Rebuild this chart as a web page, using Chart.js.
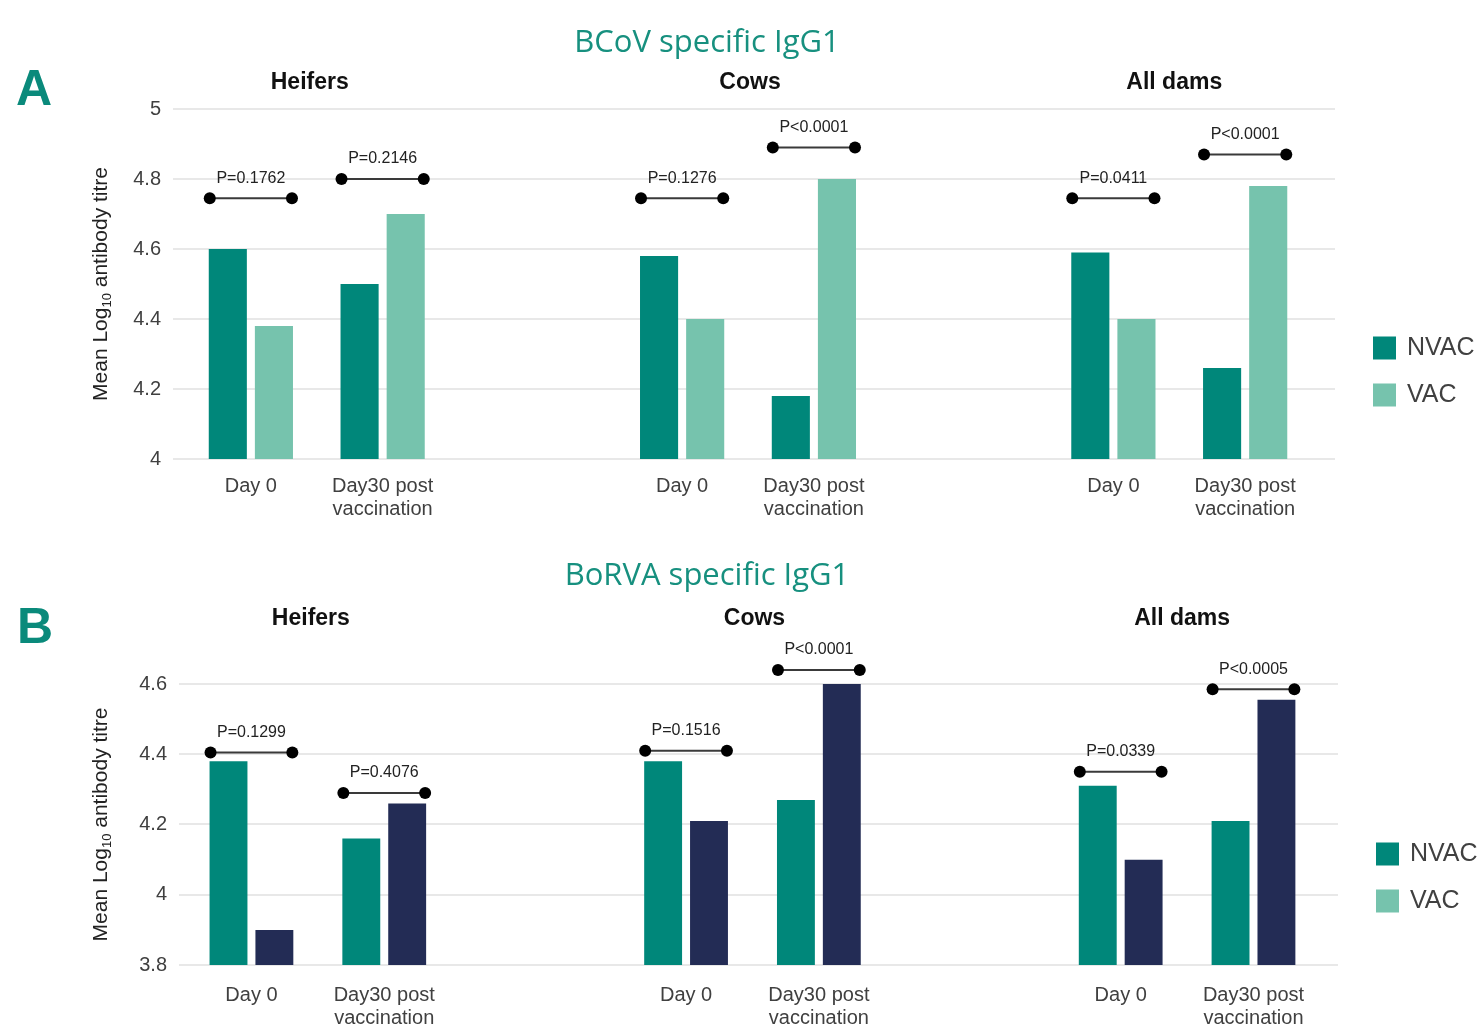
<!DOCTYPE html>
<html>
<head>
<meta charset="utf-8">
<script src="https://cdn.jsdelivr.net/npm/chart.js"></script>
<style>
  body { margin: 0; background: #fff; }
  .panel { position: absolute; left: 0; width: 1482px; }
  #boxA { top: 0; height: 530px; }
  #boxB { top: 530px; height: 495px; }
</style>
</head>
<body>
<div class="panel" id="boxA"><canvas id="chartA"></canvas></div>
<div class="panel" id="boxB"><canvas id="chartB"></canvas></div>
<script>
// ---- data ----
const groups = ["Heifers", "Cows", "All dams"];
const timepoints = ["Day 0", ["Day30 post", "vaccination"]];
const seriesNames = ["NVAC", "VAC"];

// A: BCoV specific IgG1  (order: Heifers d0, d30, Cows d0, d30, All dams d0, d30)
const bcovNVAC = [4.60, 4.50, 4.58, 4.18, 4.59, 4.26];
const bcovVAC = [4.38, 4.70, 4.40, 4.80, 4.40, 4.78];
const bcovBracket = [4.745, 4.80, 4.745, 4.89, 4.745, 4.87];
const bcovP = ["P=0.1762", "P=0.2146", "P=0.1276", "P<0.0001", "P=0.0411", "P<0.0001"];
const bcovTicks = [4, 4.2, 4.4, 4.6, 4.8, 5];
const bcovTickLabels = ["4", "4.2", "4.4", "4.6", "4.8", "5"];

// B: BoRVA specific IgG1
const borvaNVAC = [4.38, 4.16, 4.38, 4.27, 4.31, 4.21];
const borvaVAC = [3.90, 4.26, 4.21, 4.60, 4.10, 4.555];
const borvaBracket = [4.405, 4.29, 4.41, 4.64, 4.35, 4.585];
const borvaP = ["P=0.1299", "P=0.4076", "P=0.1516", "P<0.0001", "P=0.0339", "P<0.0005"];
const borvaTicks = [3.8, 4, 4.2, 4.4, 4.6];
const borvaTickLabels = ["3.8", "4", "4.2", "4.4", "4.6"];

// ---- colours ----
const teal = "#00877a";
const lightTeal = "#76c3ad";
const navy = "#232c55";

Chart.defaults.font.family = "Arial, 'Liberation Sans', sans-serif";

// category slots (spacer categories give the gaps between groups)
const SLOTS = 97, LEAD = 6, PAIR_STEP = 11, GROUP_STEP = 36;
const slotOf = [];
for (let g = 0; g < groups.length; g++) {
  for (let t = 0; t < timepoints.length; t++) slotOf.push(LEAD + g * GROUP_STEP + t * PAIR_STEP);
}
const labels = new Array(SLOTS).fill("");
slotOf.forEach((s, k) => { labels[s] = timepoints[k % 2]; });

function spread(vals) {
  const arr = new Array(SLOTS).fill(null);
  slotOf.forEach((s, k) => { arr[s] = vals[k]; });
  return arr;
}

const titleShift = [-7, 2, -5];

const extrasPlugin = {
  id: "extras",
  afterDraw(chart) {
    const o = chart.options.plugins.extras;
    const ctx = chart.ctx;
    const area = chart.chartArea;
    const y = chart.scales.y;
    const m0 = chart.getDatasetMeta(0).data;
    const m1 = chart.getDatasetMeta(1).data;
    ctx.save();

    // panel letter
    ctx.fillStyle = "#0a8a7b";
    ctx.font = "bold 50px Arial, 'Liberation Sans', sans-serif";
    ctx.textAlign = "left";
    ctx.textBaseline = "alphabetic";
    ctx.fillText(o.letter, o.letterX, o.letterY);

    // panel title
    ctx.fillStyle = "#17907f";
    ctx.font = o.titleSize + "px 'Open Sans', 'Noto Sans', sans-serif";
    ctx.textAlign = "center";
    ctx.fillText(o.title, 707, o.titleY);

    // group headings
    ctx.fillStyle = "#111";
    ctx.font = "bold 23px Arial, 'Liberation Sans', sans-serif";
    ctx.textBaseline = "middle";
    groups.forEach((g, i) => {
      const a = m0[slotOf[i * 2]], b = m1[slotOf[i * 2 + 1]];
      const cx = (a.x - a.width / 2 + b.x + b.width / 2) / 2 + titleShift[i];
      ctx.fillText(g, cx, o.groupY);
    });

    // p-value brackets
    slotOf.forEach((s, k) => {
      const a = m0[s], b = m1[s];
      const x1 = a.x - a.width / 2 + 1, x2 = b.x + b.width / 2 - 1;
      const py = y.getPixelForValue(o.bracket[k]);
      ctx.strokeStyle = "#3a3a3a";
      ctx.lineWidth = 2;
      ctx.beginPath();
      ctx.moveTo(x1, py);
      ctx.lineTo(x2, py);
      ctx.stroke();
      ctx.fillStyle = "#000";
      [x1, x2].forEach(x => {
        ctx.beginPath();
        ctx.arc(x, py, 6, 0, Math.PI * 2);
        ctx.fill();
      });
      ctx.fillStyle = "#222";
      ctx.font = "16px Arial, 'Liberation Sans', sans-serif";
      ctx.textAlign = "center";
      ctx.fillText(o.pvals[k], (x1 + x2) / 2, py - 20);
    });

    // y axis title with subscript
    ctx.save();
    ctx.translate(101, (area.top + area.bottom) / 2);
    ctx.rotate(-Math.PI / 2);
    ctx.fillStyle = "#222";
    const big = "21px Arial, 'Liberation Sans', sans-serif";
    const small = "13px Arial, 'Liberation Sans', sans-serif";
    const parts = [["Mean Log", big, 0], ["10", small, 6], [" antibody titre", big, 0]];
    let total = 0;
    parts.forEach(p => { ctx.font = p[1]; p.push(ctx.measureText(p[0]).width); total += p[3]; });
    let x = -total / 2;
    ctx.textAlign = "left";
    ctx.textBaseline = "middle";
    parts.forEach(p => { ctx.font = p[1]; ctx.fillText(p[0], x, p[2]); x += p[3]; });
    ctx.restore();

    // legend (VAC swatch is light teal in both panels)
    const lx = area.right + 38;
    const legendColors = [teal, lightTeal];
    ctx.font = "25px Arial, 'Liberation Sans', sans-serif";
    ctx.textAlign = "left";
    ctx.textBaseline = "middle";
    seriesNames.forEach((n, i) => {
      const cy = area.bottom - 111 + i * 47;
      ctx.fillStyle = legendColors[i];
      ctx.fillRect(lx, cy - 11.5, 23, 23);
      ctx.fillStyle = "#404040";
      ctx.fillText(n, lx + 34, cy);
    });
    ctx.restore();
  }
};

function makeChart(id, cfg) {
  return new Chart(document.getElementById(id), {
    type: "bar",
    data: {
      labels: labels,
      datasets: [
        { label: seriesNames[0], data: spread(cfg.nvac), backgroundColor: teal },
        { label: seriesNames[1], data: spread(cfg.vac), backgroundColor: cfg.vacColor }
      ]
    },
    options: {
      responsive: true,
      maintainAspectRatio: false,
      animation: false,
      datasets: { bar: { categoryPercentage: cfg.catPct, barPercentage: 0.826, borderWidth: 0 } },
      layout: { padding: { left: 0, right: cfg.padRight, top: cfg.padTop, bottom: 0 } },
      plugins: {
        legend: { display: false },
        tooltip: { enabled: false },
        extras: cfg.extras
      },
      scales: {
        x: {
          offset: cfg.offset,
          grid: { display: false },
          border: { display: false },
          ticks: {
            autoSkip: false, maxRotation: 0, minRotation: 0, padding: cfg.xPad,
            color: "#404040", font: { size: 20, lineHeight: 1.15 }
          },
          afterFit: s => { s.height = cfg.xHeight; }
        },
        y: {
          min: cfg.ticks[0],
          max: cfg.ticks[cfg.ticks.length - 1],
          grid: { color: "#e8e8e8", lineWidth: 2, drawTicks: false },
          border: { display: false },
          afterBuildTicks: s => { s.ticks = cfg.ticks.map(v => ({ value: v })); },
          ticks: {
            padding: 12, color: "#404040", font: { size: 20 },
            callback: (v, i) => cfg.tickLabels[i]
          },
          afterFit: s => { s.width = cfg.yWidth; }
        }
      }
    },
    plugins: [extrasPlugin]
  });
}

makeChart("chartA", {
  nvac: bcovNVAC, vac: bcovVAC, vacColor: lightTeal,
  ticks: bcovTicks, tickLabels: bcovTickLabels,
  padTop: 109, padRight: 147, yWidth: 173, xHeight: 71, xPad: 8,
  offset: true, catPct: 7.7,
  extras: {
    letter: "A", letterX: 16, letterY: 105,
    title: "BCoV specific IgG1", titleSize: 31, titleY: 52,
    groupY: 83, bracket: bcovBracket, pvals: bcovP
  }
});

makeChart("chartB", {
  nvac: borvaNVAC, vac: borvaVAC, vacColor: navy,
  ticks: borvaTicks, tickLabels: borvaTickLabels,
  padTop: 154, padRight: 144, yWidth: 179, xHeight: 60, xPad: 11,
  offset: false, catPct: 7.6,
  extras: {
    letter: "B", letterX: 17, letterY: 113,
    title: "BoRVA specific IgG1", titleSize: 31, titleY: 55,
    groupY: 89, bracket: borvaBracket, pvals: borvaP
  }
});
</script>
</body>
</html>
